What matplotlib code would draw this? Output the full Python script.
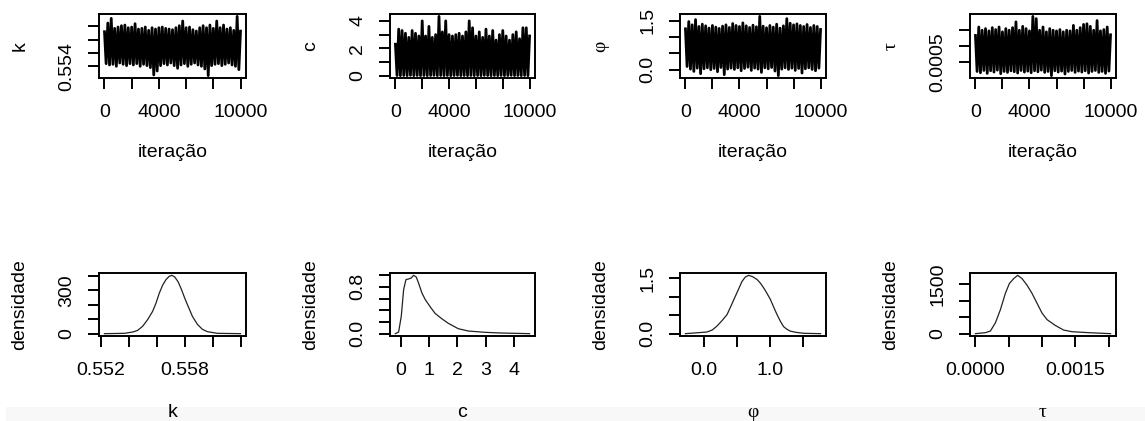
import matplotlib
matplotlib.use("Agg")
import matplotlib.pyplot as plt
from matplotlib.patches import Rectangle
import numpy as np

W, H = 1145, 421
plt.rcParams['font.family'] = ['Liberation Sans', 'DejaVu Sans']
FS = 14
GREEK = ['Liberation Serif', 'DejaVu Serif']

# ---------------- data ----------------
iterations = list(range(0, 10001, 250))

k_hi = [0.5594, 0.5605, 0.5612, 0.5597, 0.5599, 0.5601, 0.5602, 0.5598, 0.5599, 0.5604,
        0.5596, 0.5597, 0.5599, 0.5594, 0.5598, 0.5596, 0.5598, 0.5599, 0.5597, 0.5596,
        0.5595, 0.5598, 0.5601, 0.5608, 0.5598, 0.5599, 0.5595, 0.5593, 0.5598, 0.5601,
        0.5598, 0.5602, 0.5597, 0.5608, 0.5598, 0.5602, 0.5596, 0.5598, 0.5594, 0.5615, 0.5595]
k_lo = [0.5544, 0.5542, 0.5543, 0.5540, 0.5545, 0.5543, 0.5541, 0.5544, 0.5542, 0.5544,
        0.5540, 0.5543, 0.5541, 0.5538, 0.5527, 0.5533, 0.5541, 0.5544, 0.5542, 0.5545,
        0.5541, 0.5537, 0.5542, 0.5544, 0.5540, 0.5543, 0.5545, 0.5542, 0.5540, 0.5536,
        0.5526, 0.5541, 0.5543, 0.5544, 0.5541, 0.5543, 0.5545, 0.5542, 0.5540, 0.5535, 0.5543]

c_hi = [2.4, 3.4, 3.3, 3.1, 2.8, 3.3, 3.1, 2.9, 4.0, 2.9,
        3.6, 2.8, 3.0, 4.33, 3.2, 4.0, 3.0, 2.9, 3.0, 3.1,
        2.9, 3.2, 4.0, 3.5, 2.9, 3.2, 2.8, 3.4, 2.9, 3.3,
        2.6, 3.0, 3.3, 2.9, 2.6, 3.0, 3.2, 2.7, 3.5, 3.5, 3.0]
c_lo = [0.02, 0.01, 0.02, 0.01, 0.03, 0.01, 0.02, 0.01, 0.02, 0.01,
        0.02, 0.03, 0.01, 0.02, 0.01, 0.02, 0.01, 0.02, 0.03, 0.01,
        0.02, 0.01, 0.02, 0.01, 0.02, 0.01, 0.03, 0.02, 0.01, 0.02,
        0.01, 0.02, 0.01, 0.02, 0.03, 0.01, 0.02, 0.01, 0.02, 0.01, 0.02]

phi_hi = [1.30, 1.48, 1.38, 1.54, 1.33, 1.40, 1.35, 1.28, 1.36, 1.31,
          1.27, 1.34, 1.38, 1.30, 1.42, 1.36, 1.33, 1.44, 1.35, 1.30,
          1.37, 1.32, 1.64, 1.34, 1.29, 1.36, 1.31, 1.40, 1.28, 1.35,
          1.57, 1.43, 1.38, 1.41, 1.36, 1.33, 1.39, 1.30, 1.36, 1.33, 1.28]
phi_lo = [0.10, 0.02, -0.05, 0.05, -0.12, 0.03, 0.06, 0.00, 0.04, -0.06,
          0.07, -0.15, 0.02, 0.05, 0.01, 0.06, -0.03, 0.04, 0.08, -0.02,
          0.05, 0.02, -0.08, 0.06, 0.03, 0.07, -0.04, -0.18, 0.02, 0.06,
          0.01, 0.05, -0.02, 0.04, -0.10, 0.03, 0.06, 0.01, -0.03, 0.05, 0.10]

tau_hi = [0.00138, 0.00160, 0.00150, 0.00155, 0.00148, 0.00158, 0.00152, 0.00160, 0.00145, 0.00155,
          0.00150, 0.00158, 0.00176, 0.00150, 0.00162, 0.00155, 0.00148, 0.00193, 0.00186, 0.00150,
          0.00160, 0.00145, 0.00155, 0.00150, 0.00148, 0.00152, 0.00145, 0.00150, 0.00148, 0.00165,
          0.00150, 0.00158, 0.00168, 0.00170, 0.00162, 0.00150, 0.00180, 0.00148, 0.00152, 0.00160, 0.00140]
tau_lo = [0.00022, 0.00018, 0.00025, 0.00016, 0.00024, 0.00020, 0.00026, 0.00015, 0.00022, 0.00019,
          0.00024, 0.00021, 0.00017, 0.00025, 0.00020, 0.00023, 0.00018, 0.00024, 0.00021, 0.00026,
          0.00019, 0.00022, 0.00009, 0.00024, 0.00020, 0.00023, 0.00014, 0.00022, 0.00025, 0.00019,
          0.00023, 0.00020, 0.00024, 0.00017, 0.00022, 0.00025, 0.00019, 0.00022, 0.00016, 0.00023, 0.00021]

dens_k_x = [0.55228, 0.5537, 0.55429, 0.55464, 0.5550, 0.55535, 0.5557, 0.55594, 0.55617, 0.55641,
            0.55665, 0.55688, 0.55707, 0.55728, 0.55752, 0.55775, 0.55799, 0.55823, 0.55853, 0.55889,
            0.55924, 0.55959, 0.5603, 0.56195]
dens_k_y = [0, 2.3, 11.4, 22.7, 52, 97.7, 154.5, 211, 279.5, 336,
            375, 398, 405, 393, 359, 307, 245, 189, 120, 64,
            30, 14, 2.3, 0]

dens_c_x = [-0.20, -0.085, 0.01, 0.093, 0.176, 0.27, 0.364, 0.445, 0.54, 0.62,
            0.74, 0.858, 1.034, 1.21, 1.447, 1.68, 2.03, 2.39, 2.98, 3.56, 4.56]
dens_c_y = [0, 0.028, 0.30, 0.755, 0.925, 0.936, 0.953, 0.998, 0.97, 0.868,
            0.698, 0.584, 0.46, 0.346, 0.255, 0.176, 0.085, 0.045, 0.023, 0.011, 0.0]

dens_phi_x = [-0.277, 0.05, 0.13, 0.203, 0.28, 0.354, 0.42, 0.48, 0.58, 0.63, 0.68, 0.74,
              0.81, 0.86, 0.91, 0.96, 1.01, 1.06, 1.11, 1.16, 1.21, 1.26, 1.31, 1.40, 1.52, 1.77]
dens_phi_y = [0.0, 0.045, 0.10, 0.21, 0.36, 0.52, 0.78, 1.02, 1.42, 1.54, 1.586, 1.55,
              1.47, 1.37, 1.24, 1.09, 0.93, 0.72, 0.52, 0.34, 0.19, 0.12, 0.07, 0.035, 0.01, 0.0]

dens_tau_x = [0, 0.00015, 0.000225, 0.0003, 0.000375, 0.00045, 0.00051, 0.000575, 0.000635, 0.0007,
              0.000775, 0.00085, 0.000925, 0.001, 0.001075, 0.0012, 0.001325, 0.00145, 0.0017, 0.00203]
dens_tau_y = [0, 30, 80, 328, 726, 1223, 1521, 1670, 1769, 1670,
              1471, 1223, 925, 626, 427, 249, 109, 60, 30, 0]

trace_xticks = [0, 2000, 4000, 6000, 8000, 10000]
trace_xlabels = ['0', '', '4000', '', '', '10000']

# ---------------- layout helpers ----------------
fig = plt.figure(figsize=(W / 100, H / 100), dpi=100)
fig.patches.append(Rectangle((6 / W, 0), 1, (H - 407) / H, transform=fig.transFigure,
                             facecolor='#f8f8f8', edgecolor='none', zorder=-5))

cols = [(99, 246), (390, 535), (680, 826), (970, 1116)]
rows = [(14, 78), (273, 336)]


def make_ax(col, row):
    x0, x1 = cols[col]
    y0, y1 = rows[row]
    ax = fig.add_axes([x0 / W, 1 - y1 / H, (x1 - x0) / W, (y1 - y0) / H])
    for s in ax.spines.values():
        s.set_linewidth(1.4)
        s.set_color('black')
        s.set_zorder(5)
    ax.tick_params(direction='out', length=8, width=1.4, labelsize=FS, color='black')
    ax.tick_params(axis='x', pad=11)
    ax.tick_params(axis='y', pad=9, labelrotation=90)
    return ax


def rlim(vals):
    lo, hi = min(vals), max(vals)
    d = (hi - lo) * 0.04
    return lo - d, hi + d


def labels(ax, col, row, xl, yl, xfam=None, yfam=None):
    x0, x1 = cols[col]
    y0, y1 = rows[row]
    w, h = x1 - x0, y1 - y0
    ax.set_xlabel(xl, fontsize=FS, family=xfam if xfam else plt.rcParams['font.family'])
    ax.set_ylabel(yl, fontsize=FS, family=yfam if yfam else plt.rcParams['font.family'])
    off = 79 if row == 0 else 81
    ax.xaxis.set_label_coords(0.5, -off / h)
    ax.xaxis.label.set_va('baseline')
    ax.yaxis.set_label_coords(-79 / w, 0.5)
    ax.yaxis.label.set_va('center')


def trace(col, hi, lo, yticks, ylabels, name, fam=None):
    ax = make_ax(col, 0)
    # zig-zag path through the upper and lower excursions, like a dense trace
    xs, ys = [], []
    for it, h_, l_ in zip(iterations, hi, lo):
        xs += [it, it + 125]
        ys += [h_, l_]
    ax.plot(xs[:-1], ys[:-1], color='black', lw=2.0, solid_joinstyle='round',
            solid_capstyle='butt')
    ax.set_xlim(1 - 0.04 * 9999, 10000 + 0.04 * 9999)
    ax.set_ylim(*rlim(list(hi) + list(lo)))
    ax.set_xticks(trace_xticks)
    ax.set_xticklabels(trace_xlabels)
    ax.set_yticks(yticks)
    ax.set_yticklabels(ylabels, va='center')
    labels(ax, col, 0, 'iteração', name, yfam=fam)
    return ax


def density(col, xs, ys, xticks, xlabels, yticks, ylabels, name, fam=None):
    ax = make_ax(col, 1)
    ax.plot(xs, ys, color='#222222', lw=0.9)
    ax.set_xlim(*rlim(xs))
    m = max(ys)
    ax.set_ylim(-0.04 * m, 1.04 * m)
    ax.set_xticks(xticks)
    ax.set_xticklabels(xlabels)
    ax.set_yticks(yticks)
    ax.set_yticklabels(ylabels, va='center')
    labels(ax, col, 1, name, 'densidade', xfam=fam)
    return ax


trace(0, k_hi, k_lo, [0.554, 0.556, 0.558, 0.560], ['0.554', '', '', ''], 'k')
trace(1, c_hi, c_lo, [0, 1, 2, 3, 4], ['0', '', '2', '', '4'], 'c')
trace(2, phi_hi, phi_lo, [0.0, 0.5, 1.0, 1.5], ['0.0', '', '', '1.5'], 'φ', GREEK)
trace(3, tau_hi, tau_lo, [0.0005, 0.0010, 0.0015], ['0.0005', '', ''], 'τ', GREEK)

density(0, dens_k_x, dens_k_y, [0.552, 0.554, 0.556, 0.558, 0.560, 0.562],
        ['0.552', '', '', '0.558', '', ''], [0, 100, 200, 300, 400], ['0', '', '', '300', ''], 'k')
density(1, dens_c_x, dens_c_y, [0, 1, 2, 3, 4], ['0', '1', '2', '3', '4'],
        [0.0, 0.2, 0.4, 0.6, 0.8, 1.0], ['0.0', '', '', '', '0.8', ''], 'c')
density(2, dens_phi_x, dens_phi_y, [0.0, 0.5, 1.0, 1.5], ['0.0', '', '1.0', ''],
        [0.0, 0.5, 1.0, 1.5], ['0.0', '', '', '1.5'], 'φ', GREEK)
density(3, dens_tau_x, dens_tau_y, [0.0, 0.0005, 0.0010, 0.0015, 0.0020],
        ['0.0000', '', '', '0.0015', ''], [0, 500, 1000, 1500], ['0', '', '', '1500'], 'τ', GREEK)

fig.savefig('out.png', dpi=100)
